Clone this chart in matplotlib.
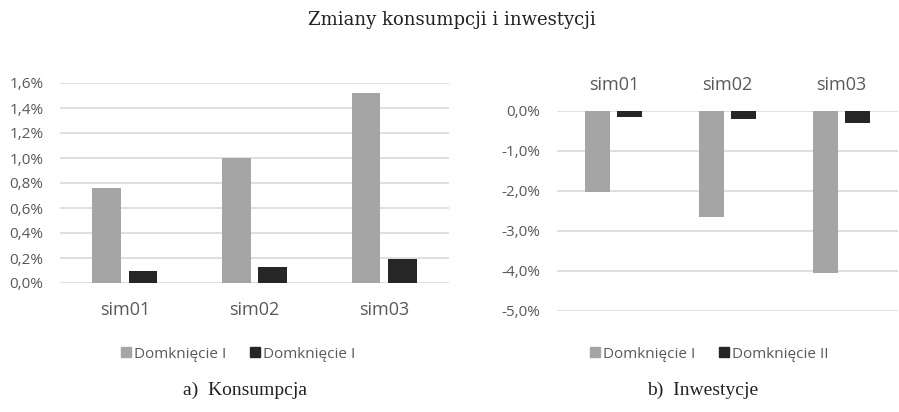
import numpy as np
import matplotlib
matplotlib.use('Agg')
import matplotlib.pyplot as plt
from matplotlib.lines import Line2D
from matplotlib.ticker import FuncFormatter

sims = ['sim01', 'sim02', 'sim03']
kons_1 = [0.76, 1.00, 1.52]
kons_2 = [0.10, 0.13, 0.19]
inw_1 = [-2.02, -2.66, -4.04]
inw_2 = [-0.16, -0.21, -0.31]
kons_labels = ['Domknięcie I', 'Domknięcie I']
inw_labels = ['Domknięcie I', 'Domknięcie II']

GRAY = '#A5A5A5'
DARK = '#262626'
GRID = '#D9D9D9'
TXT = '#595959'

plt.rcParams['font.family'] = ['Open Sans', 'DejaVu Sans']


def pct(v, pos):
    return ('%.1f%%' % v).replace('.', ',')


def style(ax):
    for s in ax.spines.values():
        s.set_visible(False)
    ax.yaxis.grid(True, color=GRID, linewidth=1.2)
    ax.set_axisbelow(True)
    ax.tick_params(length=0, labelsize=11, colors=TXT)
    ax.yaxis.set_major_formatter(FuncFormatter(pct))


def legend(fig, x, y, labels):
    handles = [Line2D([], [], marker='s', color='none', markerfacecolor=c,
                      markeredgecolor=c, markersize=7.5) for c in (GRAY, DARK)]
    fig.legend(handles, labels, loc='center', bbox_to_anchor=(x, y), ncol=2,
               frameon=False, fontsize=11, labelcolor=TXT, handletextpad=0.0,
               columnspacing=1.4, handlelength=1.0)


fig = plt.figure(figsize=(8.99, 4.12), dpi=100)
x = np.arange(len(sims))
w = 0.22
off = 0.14

# a) konsumpcja
ax1 = fig.add_axes([60 / 899, 1 - 283 / 412, 389 / 899, 200 / 412])
ax1.bar(x - off, kons_1, w, color=GRAY)
ax1.bar(x + off, kons_2, w, color=DARK)
ax1.set_xlim(-0.5, 2.5)
ax1.set_ylim(0, 1.6)
ax1.set_yticks(np.arange(0, 1.61, 0.2))
style(ax1)
ax1.set_xticks(x)
ax1.set_xticklabels(sims, fontsize=13)
ax1.tick_params(axis='x', pad=13)
ax1.tick_params(axis='y', pad=12)

# b) inwestycje
ax2 = fig.add_axes([557 / 899, 1 - 311 / 412, 341 / 899, 200 / 412])
ax2.bar(x - off, inw_1, w, color=GRAY)
ax2.bar(x + off, inw_2, w, color=DARK)
ax2.set_xlim(-0.5, 2.5)
ax2.set_ylim(-5, 0)
ax2.set_yticks(np.arange(-5, 0.01, 1))
style(ax2)
ax2.xaxis.tick_top()
ax2.set_xticks(x)
ax2.set_xticklabels(sims, fontsize=13)
ax2.tick_params(axis='x', pad=12)
ax2.tick_params(axis='y', pad=12)

legend(fig, 237 / 899, 1 - 354 / 412, kons_labels)
legend(fig, 708 / 899, 1 - 354 / 412, inw_labels)

fig.text(452 / 899, 1 - 20 / 412, 'Zmiany konsumpcji i inwestycji',
         ha='center', va='center', fontsize=13, family='DejaVu Serif',
         color='#222222')
fig.text(245 / 899, 1 - 390 / 412, 'a)  Konsumpcja', ha='center', va='center',
         fontsize=14, family='Liberation Serif', color='#222222')
fig.text(703 / 899, 1 - 390 / 412, 'b)  Inwestycje', ha='center', va='center',
         fontsize=14, family='Liberation Serif', color='#222222')

fig.savefig('out.png', dpi=100)
